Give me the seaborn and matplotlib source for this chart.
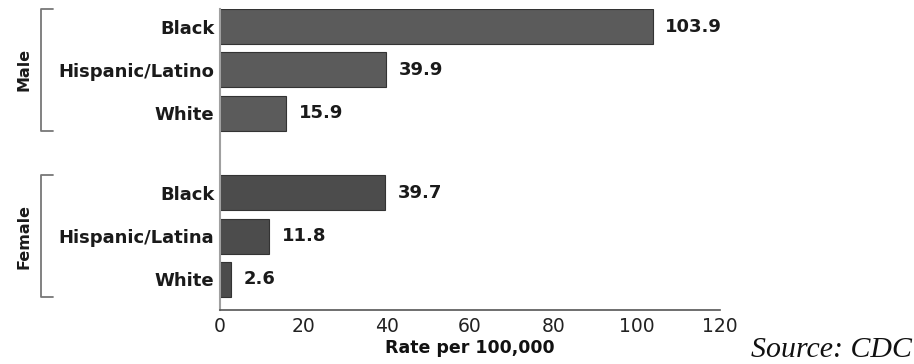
import matplotlib
matplotlib.use("Agg")
import matplotlib.pyplot as plt
import matplotlib.transforms as mtransforms
import seaborn as sns
import pandas as pd
import numpy as np

# ---- data ----
groups = ["Male", "Female"]
male_races = ["Black", "Hispanic/Latino", "White"]
female_races = ["Black", "Hispanic/Latina", "White"]
male_rates = [103.9, 39.9, 15.9]
female_rates = [39.7, 11.8, 2.6]
x_ticks = [0, 20, 40, 60, 80, 100, 120]
x_label = "Rate per 100,000"
source_text = "Source: CDC"

sns.set_theme(style="white")
plt.rcParams["font.family"] = ["DejaVu Sans"]

# layout positions (computed, not data)
group_gap = 3.84
rows = []
for gi, (g, races, rates) in enumerate([("Male", male_races, male_rates),
                                        ("Female", female_races, female_rates)]):
    for ri, (r, v) in enumerate(zip(races, rates)):
        rows.append({"group": g, "race": r, "rate": v, "pos": gi * group_gap + ri})
df = pd.DataFrame(rows)

fig = plt.figure(figsize=(9.14, 3.64), dpi=100)
ax = fig.add_axes([220 / 914, 1 - 310 / 364, 500 / 914, (310 - 9) / 364])

sns.barplot(data=df, x="rate", y="pos", hue="group", orient="h", native_scale=True,
            dodge=False, width=0.81, palette={"Male": "#5b5b5b", "Female": "#4c4c4c"},
            edgecolor="#333333", linewidth=0.8, legend=False, ax=ax)

ax.set_xlim(0, 120)
ax.set_ylim(df["pos"].max() + 0.405 + 0.3, -0.405)
ax.set_xticks(x_ticks)
ax.set_xticklabels([str(t) for t in x_ticks], fontsize=13.5, color="#222222")
ax.set_yticks(df["pos"])
ax.set_yticklabels(df["race"], fontsize=13, fontweight="bold", color="#1a1a1a")
ax.tick_params(axis="y", length=0, pad=4)
ax.tick_params(axis="x", direction="in", length=6, width=1, color="#555555", pad=5)
for s in ["top", "right"]:
    ax.spines[s].set_visible(False)
ax.spines["left"].set_color("#a0a0a0")
ax.spines["left"].set_linewidth(1.5)
ax.spines["bottom"].set_color("#555555")
ax.spines["bottom"].set_linewidth(1.2)
ax.set_ylabel("")
ax.set_xlabel(x_label, fontsize=12.5, fontweight="bold", color="#111111", labelpad=2)

for cont in ax.containers:
    ax.bar_label(cont, labels=[f"{v:.1f}" for v in cont.datavalues], padding=9,
                 fontsize=13, fontweight="bold", color="#1a1a1a")

# group brackets
trans = mtransforms.blended_transform_factory(fig.transFigure, ax.transData)
bx0, bx1 = 41 / 914, 53 / 914
for g in groups:
    sub = df[df["group"] == g]
    top = sub["pos"].min() - 0.405
    bot = sub["pos"].max() + 0.405
    ax.plot([bx1, bx0, bx0, bx1], [top, top, bot, bot], transform=trans,
            color="#777777", lw=1.3, clip_on=False)
    ax.text(24 / 914, (top + bot) / 2, g, transform=trans, rotation=90,
            ha="center", va="center", fontsize=11.5, fontweight="bold", color="#1a1a1a")

fig.text(912 / 914, 7 / 364, source_text, ha="right", va="baseline",
         fontsize=21.5, fontstyle="italic", family="Liberation Serif", color="#111111")

fig.savefig("out.png", dpi=100)
